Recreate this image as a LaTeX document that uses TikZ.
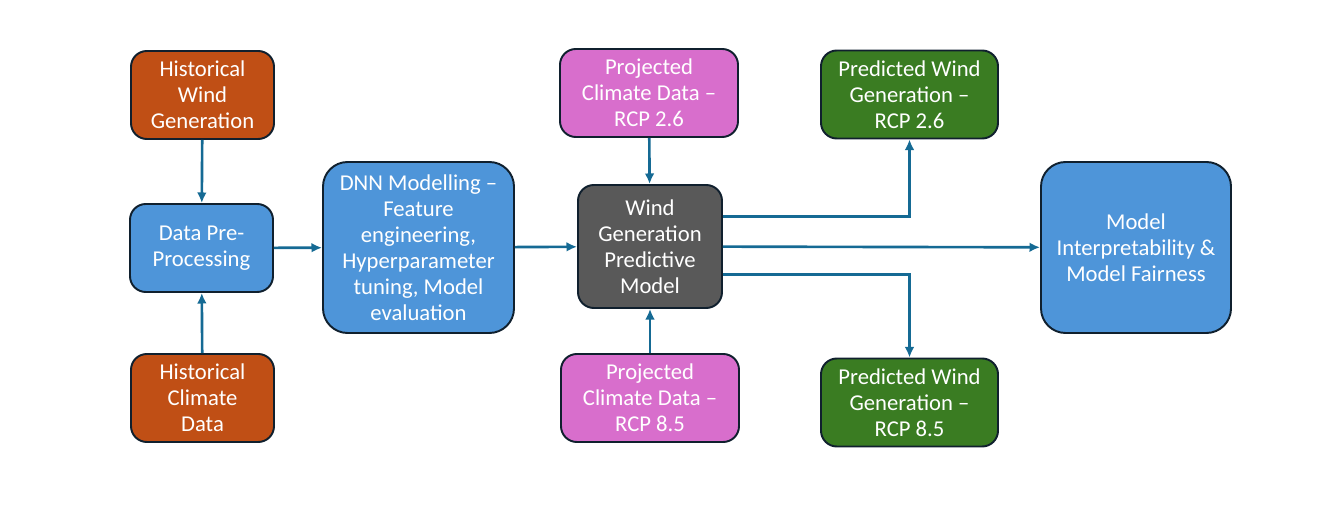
\documentclass[tikz,border=0pt]{standalone}
\usepackage{fontspec}
\setmainfont{Carlito}
\usetikzlibrary{calc,positioning,arrows.meta}
\definecolor{historange}{HTML}{C04F15}
\definecolor{procblue}{HTML}{4E95D9}
\definecolor{projpink}{HTML}{D86ECC}
\definecolor{modelgray}{HTML}{595959}
\definecolor{predgreen}{HTML}{3A7C22}
\definecolor{edgeline}{HTML}{10202E}
\definecolor{flowblue}{HTML}{156A94}

\begin{document}
\begin{tikzpicture}[x=0.02cm,y=0.02cm,
    box/.style={draw=edgeline, line width=1.1pt, rounded corners=9pt, text=white,
      align=center, inner sep=0pt, font=\fontsize{12.9}{14.8}\selectfont},
    smallbox/.style={box, minimum width=143*0.02cm, minimum height=88*0.02cm},
    widebox/.style={box, minimum width=178*0.02cm, minimum height=88*0.02cm},
    bigbox/.style={box, rounded corners=14pt, minimum width=191*0.02cm, minimum height=171*0.02cm},
    flow/.style={draw=flowblue, line width=1.5pt, -{Latex[length=6pt,width=5.5pt]}}]
  \useasboundingbox (0,0) rectangle (1318,510);

  % inputs
  \node[smallbox, fill=historange] (hwg) at (202.5,415) {Historical\\Wind\\Generation};
  \node[smallbox, fill=procblue] (dpp) at (201.5,262) {Data Pre-\\Processing};
  \node[smallbox, fill=historange] (hcd) at (202.5,112) {Historical\\Climate\\Data};
  \node[bigbox, fill=procblue] (dnn) at (418.5,262.5) {DNN Modelling --\\Feature\\engineering,\\Hyperparameter\\tuning, Model\\evaluation};

  % model and scenarios
  \node[widebox, fill=projpink] (pcd26) at (649,417) {Projected\\Climate Data --\\RCP 2.6};
  \node[box, fill=modelgray, minimum width=144*0.02cm, minimum height=123*0.02cm] (wgpm) at (650,263.5) {Wind\\Generation\\Predictive\\Model};
  \node[widebox, fill=projpink] (pcd85) at (650,112) {Projected\\Climate Data --\\RCP 8.5};
  \node[widebox, fill=predgreen, minimum width=177*0.02cm] (pwg26) at (909.5,415.5) {Predicted Wind\\Generation --\\RCP 2.6};
  \node[widebox, fill=predgreen, minimum width=177*0.02cm] (pwg85) at (909.5,107.5) {Predicted Wind\\Generation --\\RCP 8.5};
  \node[bigbox, fill=procblue, minimum width=190*0.02cm] (mif) at (1136,262.5) {Model\\Interpretability \&\\Model Fairness};

  \draw[flow] (hwg) -- (dpp);
  \draw[flow] (hcd) -- (dpp);
  \draw[flow] (dpp) -- (dnn);
  \draw[flow] (dnn) -- (wgpm);
  \draw[flow] (pcd26) -- (wgpm);
  \draw[flow] (pcd85) -- (wgpm);
  \draw[flow] ($(wgpm.east)+(0,30)$) -| (pwg26.south);
  \draw[flow] (wgpm) -- (mif);
  \draw[flow] ($(wgpm.east)+(0,-28)$) -| (pwg85.north);
\end{tikzpicture}
\end{document}
